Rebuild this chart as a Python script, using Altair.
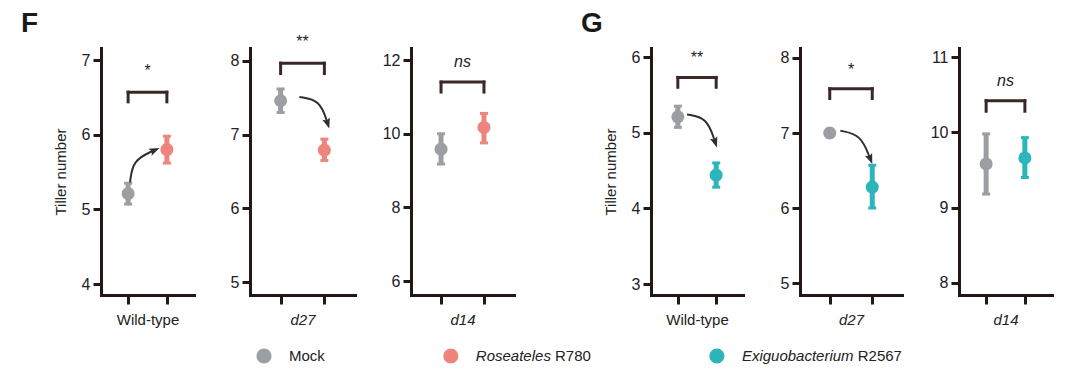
import math
import altair as alt
import pandas as pd

# ---------------- data ----------------
genotypes = ["Wild-type", "d27", "d14", "Wild-type", "d27", "d14"]
strains = ["Roseateles R780"] * 3 + ["Exiguobacterium R2567"] * 3

mock_mean = [5.21, 7.46, 9.58, 5.21, 7.00, 9.58]
mock_lo = [5.07, 7.30, 9.18, 5.07, 6.95, 9.18]
mock_hi = [5.35, 7.62, 10.00, 5.35, 7.05, 9.98]
trt_mean = [5.80, 6.79, 10.17, 4.44, 6.28, 9.66]
trt_lo = [5.62, 6.65, 9.75, 4.28, 6.00, 9.40]
trt_hi = [5.98, 6.94, 10.55, 4.60, 6.57, 9.93]

sig_label = ["*", "**", "ns", "**", "*", "ns"]
bracket_top = [6.57, 7.97, 11.40, 5.73, 7.59, 10.42]
bracket_leg = [6.44, 7.83, 11.13, 5.60, 7.46, 10.28]
sig_y = [6.85, 8.26, 11.95, 5.99, 7.84, 10.68]

y_ticks = [[4, 5, 6, 7], [5, 6, 7, 8], [6, 8, 10, 12], [3, 4, 5, 6], [5, 6, 7, 8], [8, 9, 10, 11]]
y_lo = [3.853, 4.824, 5.62, 2.855, 4.841, 7.84]
y_hi = [7.161, 8.176, 12.326, 6.119, 8.133, 11.12]

# curved arrows (start, bend, end) in data units; None where no arrow
arrow_x = [[1.05, 1.12, 1.67], [1.43, 1.90, 2.07], None, [1.24, 1.76, 1.97], [1.25, 1.73, 1.95], None]
arrow_y = [[5.36, 5.66, 5.79], [7.51, 7.47, 7.16], None, [5.24, 5.20, 4.88], [7.03, 6.98, 6.66], None]

series_names = ["Mock", "Roseateles R780", "Exiguobacterium R2567"]
series_colors = ["#9b9ea2", "#ee857d", "#2bb6bb"]
legend_italic = ["", "Roseateles", "Exiguobacterium"]
legend_roman = ["Mock", "R780", "R2567"]

# ---------------- layout / style ----------------
panel_widths = [93, 105, 103, 92, 102, 93]
PANEL_H = 247
X_DOMAIN = [0.3, 2.7]
AXIS_COLOR = "#231816"
BRACKET_COLOR = "#3a2826"
ARROW_COLOR = "#2f2f2f"
TEXT_COLOR = "#222222"
FONT = "Liberation Sans"
FS = 15

color_scale = alt.Scale(domain=series_names, range=series_colors)

CHAR_W = {"M": .833, "o": .556, "c": .5, "k": .5, "R": .722, "s": .5, "e": .556, "a": .556,
          "t": .278, "l": .222, "E": .667, "x": .5, "i": .222, "g": .556, "u": .556, "b": .556,
          "r": .333, "m": .833, " ": .278}


def text_width(s, size):
    return sum(CHAR_W.get(ch, 0.556) for ch in s) * size


def panel(i, letter=None, letter_dx=0):
    W = panel_widths[i]
    trt = strains[i]
    pts = pd.DataFrame({
        "pos": [1, 2],
        "group": ["Mock", trt],
        "mean": [mock_mean[i], trt_mean[i]],
        "lo": [mock_lo[i], trt_lo[i]],
        "hi": [mock_hi[i], trt_hi[i]],
    })
    xs = alt.Scale(domain=X_DOMAIN, nice=False, zero=False)
    ys = alt.Scale(domain=[y_lo[i], y_hi[i]], nice=False, zero=False)
    italic = genotypes[i] != "Wild-type"
    x_axis = alt.Axis(values=[1, 2], labels=False, grid=False, tickSize=9, tickWidth=3,
                      domainWidth=3, domainCap="square", title=genotypes[i],
                      titleFontStyle="italic" if italic else "normal",
                      titlePadding=7, minExtent=10, maxExtent=10)
    y_kwargs = dict(values=y_ticks[i], grid=False, tickSize=8, tickWidth=3, domainWidth=3,
                    domainCap="square", labelPadding=3, minExtent=30, maxExtent=30,
                    titlePadding=3, labelFontSize=16)
    if i in (0, 3):
        y_axis = alt.Axis(title="Tiller number", **y_kwargs)
    else:
        y_axis = alt.Axis(title=None, **y_kwargs)

    def X(field="pos"):
        return alt.X(f"{field}:Q", scale=xs, axis=x_axis)

    def Y(field):
        return alt.Y(f"{field}:Q", scale=ys, axis=y_axis)

    col = alt.Color("group:N", scale=color_scale, legend=None)
    base = alt.Chart(pts)
    bars = base.mark_rule(strokeWidth=5).encode(x=X(), y=Y("lo"), y2="hi:Q", color=col)
    cap_lo = base.mark_tick(orient="horizontal", size=8, thickness=3, opacity=1).encode(
        x=X(), y=Y("lo"), color=col)
    cap_hi = base.mark_tick(orient="horizontal", size=8, thickness=3, opacity=1).encode(
        x=X(), y=Y("hi"), color=col)
    dots = base.mark_circle(size=170, opacity=1).encode(x=X(), y=Y("mean"), color=col)

    segs = pd.DataFrame({
        "x": [1, 1, 2],
        "x2": [2, 1, 2],
        "y": [bracket_top[i], bracket_leg[i], bracket_leg[i]],
        "y2": [bracket_top[i], bracket_top[i], bracket_top[i]],
    })
    bracket = alt.Chart(segs).mark_rule(strokeWidth=3, color=BRACKET_COLOR, strokeCap="square").encode(
        x=X("x"), x2="x2:Q", y=Y("y"), y2="y2:Q")

    sig_df = pd.DataFrame({"x": [1.5], "y": [sig_y[i]], "t": [sig_label[i]]})
    sig = alt.Chart(sig_df).mark_text(
        fontSize=16, font=FONT, color=TEXT_COLOR,
        fontStyle="italic" if sig_label[i] == "ns" else "normal",
        baseline="middle", align="center").encode(x=X("x"), y=Y("y"), text="t:N")

    layers = [bars, cap_lo, cap_hi, dots, bracket, sig]

    if arrow_x[i] is not None:
        ax, ay = arrow_x[i], arrow_y[i]
        adf = pd.DataFrame({"x": ax, "y": ay, "k": [0, 1, 2]})
        line = alt.Chart(adf).mark_line(interpolate="basis", strokeWidth=2, color=ARROW_COLOR).encode(
            x=X("x"), y=Y("y"), order="k:O")
        kx = W / (X_DOMAIN[1] - X_DOMAIN[0])
        ky = PANEL_H / (y_hi[i] - y_lo[i])
        dx = (ax[2] - ax[1]) * kx
        dy = -(ay[2] - ay[1]) * ky
        ang = math.degrees(math.atan2(dx, -dy)) % 360
        hdf = pd.DataFrame({"x": [ax[2]], "y": [ay[2]]})
        head = alt.Chart(hdf).mark_point(
            shape="M0,-1L0.65,0.75L0,0.4L-0.65,0.75Z", size=144, filled=True, opacity=1,
            color=ARROW_COLOR, angle=round(ang, 1), strokeWidth=0).encode(x=X("x"), y=Y("y"))
        layers += [line, head]

    ch = alt.layer(*layers).properties(width=W, height=PANEL_H)
    if letter:
        ch = ch.properties(title=alt.TitleParams(
            letter, anchor="start", frame="group", dx=letter_dx, dy=25, fontSize=28,
            fontWeight="bold", font=FONT, color="#1a1a1a", baseline="alphabetic", offset=13))
    return ch


f_group = alt.hconcat(panel(0, "F", -80), panel(1), panel(2), spacing=26)
g_group = alt.hconcat(panel(3, "G", -70), panel(4), panel(5), spacing=27)
top = alt.hconcat(f_group, g_group, spacing=67)

# ---------------- legend (built from the series lists) ----------------
LEG_W = 900
LEG_FIRST = 163
SYM_TO_TEXT = 25
ENTRY_GAP = 126
cx, tx, rx = [], [], []
cur = LEG_FIRST
for it, ro in zip(legend_italic, legend_roman):
    cx.append(cur)
    start = cur + SYM_TO_TEXT
    tx.append(start)
    wi = text_width(it, FS)
    r0 = start + (wi + text_width(" ", FS) if it else 0)
    rx.append(r0)
    end = r0 + text_width(ro, FS)
    cur = end + ENTRY_GAP

leg_df = pd.DataFrame({"name": series_names, "it": legend_italic, "ro": legend_roman,
                       "cx": cx, "tx": tx, "rx": rx})
lx = alt.Scale(domain=[0, LEG_W], nice=False, zero=False)
leg_base = alt.Chart(leg_df)
leg_sym = leg_base.mark_circle(size=230, opacity=1).encode(
    x=alt.X("cx:Q", scale=lx, axis=None), y=alt.value(10),
    color=alt.Color("name:N", scale=color_scale, legend=None))
leg_it = leg_base.mark_text(align="left", baseline="middle", fontSize=FS, font=FONT,
                            fontStyle="italic", color=TEXT_COLOR).encode(
    x=alt.X("tx:Q", scale=lx, axis=None), y=alt.value(10), text="it:N")
leg_ro = leg_base.mark_text(align="left", baseline="middle", fontSize=FS, font=FONT,
                            color=TEXT_COLOR).encode(
    x=alt.X("rx:Q", scale=lx, axis=None), y=alt.value(10), text="ro:N")
legend = alt.layer(leg_sym, leg_it, leg_ro).properties(width=LEG_W, height=20)

chart = alt.vconcat(top, legend, spacing=19).configure(
    padding={"left": 21, "top": 10, "right": 5, "bottom": 0}, font=FONT
).configure_view(stroke=None).configure_axis(
    labelFont=FONT, labelFontSize=FS, labelColor=TEXT_COLOR,
    titleFont=FONT, titleFontSize=FS, titleFontWeight="normal", titleColor=TEXT_COLOR,
    domainColor=AXIS_COLOR, tickColor=AXIS_COLOR)

chart.save("out.html", embed_options={"renderer": "svg", "actions": False})
